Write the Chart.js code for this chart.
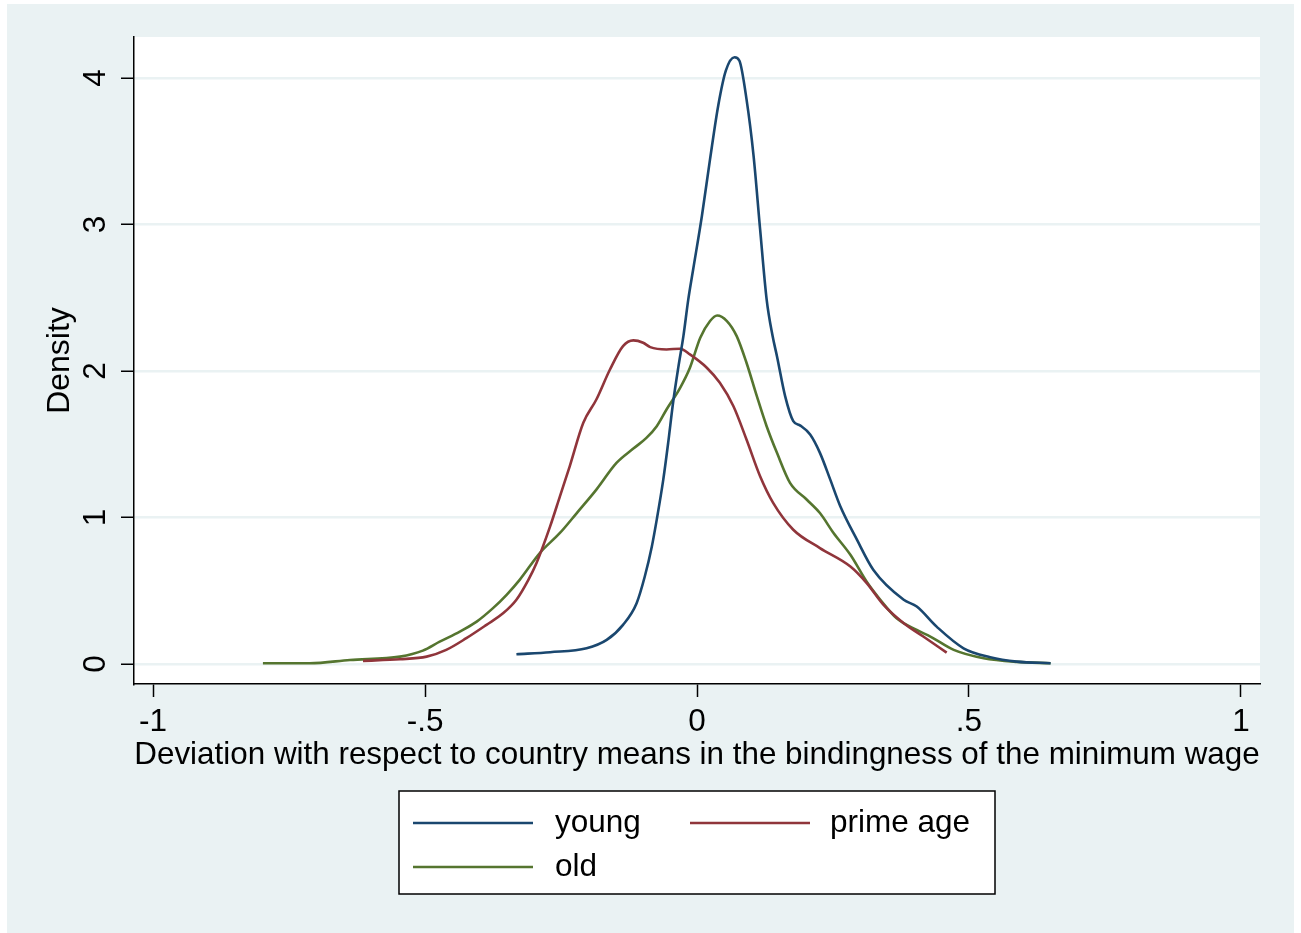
<!DOCTYPE html>
<html>
<head>
<meta charset="utf-8">
<script src="https://cdn.jsdelivr.net/npm/chart.js@4.4.0/dist/chart.umd.min.js"></script>
<style>
  html, body { margin: 0; padding: 0; background: #ffffff; }
  #wrap { position: absolute; left: 0; top: 0; width: 1301px; height: 933px; }
</style>
</head>
<body>
<div id="wrap"><canvas id="densityChart" width="1301" height="933"></canvas></div>
<script>
// kernel density estimates
const youngX = [-0.332, -0.270, -0.203, -0.166, -0.136, -0.111, -0.096, -0.083, -0.074, -0.062, -0.053, -0.044, -0.034, -0.025, -0.016, -0.007, 0.009, 0.024, 0.039, 0.053, 0.069, 0.078, 0.091, 0.104, 0.116, 0.128, 0.139, 0.147, 0.162, 0.177, 0.190, 0.208, 0.226, 0.245, 0.263, 0.294, 0.324, 0.380, 0.404, 0.441, 0.490, 0.539, 0.588, 0.650];
const youngY = [0.066, 0.080, 0.107, 0.164, 0.267, 0.415, 0.597, 0.802, 0.985, 1.258, 1.509, 1.783, 2.033, 2.238, 2.489, 2.694, 3.058, 3.446, 3.811, 4.050, 4.142, 4.118, 3.856, 3.469, 2.968, 2.489, 2.238, 2.101, 1.828, 1.657, 1.627, 1.566, 1.441, 1.258, 1.080, 0.848, 0.643, 0.438, 0.392, 0.253, 0.107, 0.046, 0.016, 0.005];

const primeX = [-0.614, -0.546, -0.497, -0.461, -0.424, -0.387, -0.356, -0.332, -0.310, -0.295, -0.270, -0.252, -0.234, -0.209, -0.185, -0.160, -0.136, -0.117, -0.099, -0.086, -0.056, -0.031, -0.013, 0.018, 0.042, 0.067, 0.091, 0.116, 0.140, 0.177, 0.226, 0.282, 0.312, 0.343, 0.380, 0.416, 0.459];
const primeY = [0.021, 0.032, 0.050, 0.096, 0.176, 0.267, 0.347, 0.438, 0.574, 0.689, 0.939, 1.144, 1.349, 1.646, 1.805, 2.010, 2.170, 2.209, 2.193, 2.163, 2.147, 2.152, 2.113, 2.022, 1.919, 1.759, 1.532, 1.281, 1.099, 0.916, 0.791, 0.665, 0.552, 0.403, 0.278, 0.187, 0.077];

const oldX = [-0.798, -0.712, -0.638, -0.546, -0.504, -0.473, -0.436, -0.405, -0.375, -0.350, -0.326, -0.289, -0.252, -0.221, -0.185, -0.148, -0.117, -0.093, -0.074, -0.056, -0.031, -0.013, 0.006, 0.024, 0.037, 0.055, 0.073, 0.091, 0.110, 0.128, 0.147, 0.171, 0.202, 0.226, 0.251, 0.282, 0.312, 0.337, 0.367, 0.404, 0.429, 0.472, 0.527, 0.588, 0.650];
const oldY = [0.005, 0.005, 0.027, 0.050, 0.091, 0.152, 0.221, 0.289, 0.381, 0.472, 0.574, 0.757, 0.894, 1.030, 1.190, 1.372, 1.470, 1.543, 1.623, 1.737, 1.885, 2.022, 2.227, 2.341, 2.379, 2.341, 2.238, 2.056, 1.828, 1.623, 1.441, 1.236, 1.121, 1.030, 0.894, 0.745, 0.561, 0.438, 0.312, 0.232, 0.187, 0.096, 0.039, 0.014, 0.005];

const xTicks = [-1, -0.5, 0, 0.5, 1];
const xTickLabels = ['-1', '-.5', '0', '.5', '1'];
const yTicks = [0, 1, 2, 3, 4];
const yTickLabels = ['0', '1', '2', '3', '4'];

const seriesNames = ['young', 'prime age', 'old'];
const seriesColors = ['#1a476f', '#90353b', '#55752f'];

const FONT = '"Liberation Sans", Arial, Helvetica, sans-serif';
const PANEL = '#eaf2f3';

function toPoints(xs, ys) {
  return xs.map((x, i) => ({ x: x, y: ys[i] }));
}

// Stata-like frame, rotated y labels, titles and the boxed legend
const stataLook = {
  id: 'stataLook',
  beforeDraw(chart) {
    const ctx = chart.ctx;
    const a = chart.chartArea;
    ctx.save();
    ctx.fillStyle = PANEL;
    ctx.fillRect(7, 4, 1287, 929);
    ctx.fillStyle = '#ffffff';
    ctx.fillRect(a.left, a.top, a.right - a.left, a.bottom - a.top);
    ctx.restore();
  },
  afterDraw(chart) {
    const ctx = chart.ctx;
    const a = chart.chartArea;
    const xs = chart.scales.x;
    const ys = chart.scales.y;
    ctx.save();
    ctx.fillStyle = '#000000';
    ctx.font = '31.5px ' + FONT;

    // y tick labels, rotated
    ctx.textAlign = 'center';
    ctx.textBaseline = 'middle';
    yTicks.forEach((v, i) => {
      ctx.save();
      ctx.translate(96, ys.getPixelForValue(v));
      ctx.rotate(-Math.PI / 2);
      ctx.fillText(yTickLabels[i], 0, 0);
      ctx.restore();
    });

    // y title
    ctx.save();
    ctx.font = '32px ' + FONT;
    ctx.translate(60, (a.top + a.bottom) / 2);
    ctx.rotate(-Math.PI / 2);
    ctx.fillText('Density', 0, 0);
    ctx.restore();

    // x tick labels
    xTicks.forEach((v, i) => {
      ctx.fillText(xTickLabels[i], xs.getPixelForValue(v), 722);
    });

    // x title
    ctx.font = '31.4px ' + FONT;
    ctx.fillText('Deviation with respect to country means in the bindingness of the minimum wage', (a.left + a.right) / 2, 755);

    // legend
    const bx = 399, by = 791, bw = 596, bh = 103;
    ctx.fillStyle = '#ffffff';
    ctx.fillRect(bx, by, bw, bh);
    ctx.strokeStyle = '#000000';
    ctx.lineWidth = 1.5;
    ctx.strokeRect(bx, by, bw, bh);

    const slots = [
      { lx: 413, tx: 555, y: 823 },
      { lx: 690, tx: 830, y: 823 },
      { lx: 413, tx: 555, y: 867 }
    ];
    ctx.font = '31.5px ' + FONT;
    ctx.textAlign = 'left';
    chart.data.datasets.forEach((ds, i) => {
      const s = slots[i];
      ctx.strokeStyle = ds.borderColor;
      ctx.lineWidth = 2.5;
      ctx.beginPath();
      ctx.moveTo(s.lx, s.y);
      ctx.lineTo(s.lx + 120, s.y);
      ctx.stroke();
      ctx.fillStyle = '#000000';
      ctx.fillText(ds.label, s.tx, s.y);
    });
    ctx.restore();
  }
};

const ctx = document.getElementById('densityChart').getContext('2d');
new Chart(ctx, {
  type: 'line',
  data: {
    datasets: [
      { label: seriesNames[0], data: toPoints(youngX, youngY), borderColor: seriesColors[0] },
      { label: seriesNames[1], data: toPoints(primeX, primeY), borderColor: seriesColors[1] },
      { label: seriesNames[2], data: toPoints(oldX, oldY), borderColor: seriesColors[2] }
    ].map(d => Object.assign(d, {
      borderWidth: 2.6,
      pointRadius: 0,
      fill: false,
      cubicInterpolationMode: 'monotone'
    }))
  },
  options: {
    responsive: false,
    animation: false,
    devicePixelRatio: 1,
    layout: { padding: { top: 37, right: 41, bottom: 0, left: 0 } },
    plugins: {
      legend: { display: false },
      tooltip: { enabled: false }
    },
    scales: {
      x: {
        type: 'linear',
        min: -1.035,
        max: 1.035,
        afterBuildTicks: s => { s.ticks = xTicks.map(v => ({ value: v })); },
        afterFit: s => { s.height = 933 - 684; },
        ticks: { color: 'rgba(0,0,0,0)', font: { size: 30 } },
        grid: {
          drawOnChartArea: false,
          tickColor: '#000000',
          tickLength: 13,
          tickWidth: 1.5
        },
        border: { color: '#000000', width: 1.5 }
      },
      y: {
        type: 'linear',
        min: -0.137,
        max: 4.28,
        afterBuildTicks: s => { s.ticks = yTicks.map(v => ({ value: v })); },
        afterFit: s => { s.width = 134; },
        ticks: { color: 'rgba(0,0,0,0)', font: { size: 30 } },
        grid: {
          color: PANEL,
          lineWidth: 2.5,
          tickColor: '#000000',
          tickLength: 13,
          tickWidth: 1.5
        },
        border: { color: '#000000', width: 1.5 }
      }
    }
  },
  plugins: [stataLook]
});
</script>
</body>
</html>
